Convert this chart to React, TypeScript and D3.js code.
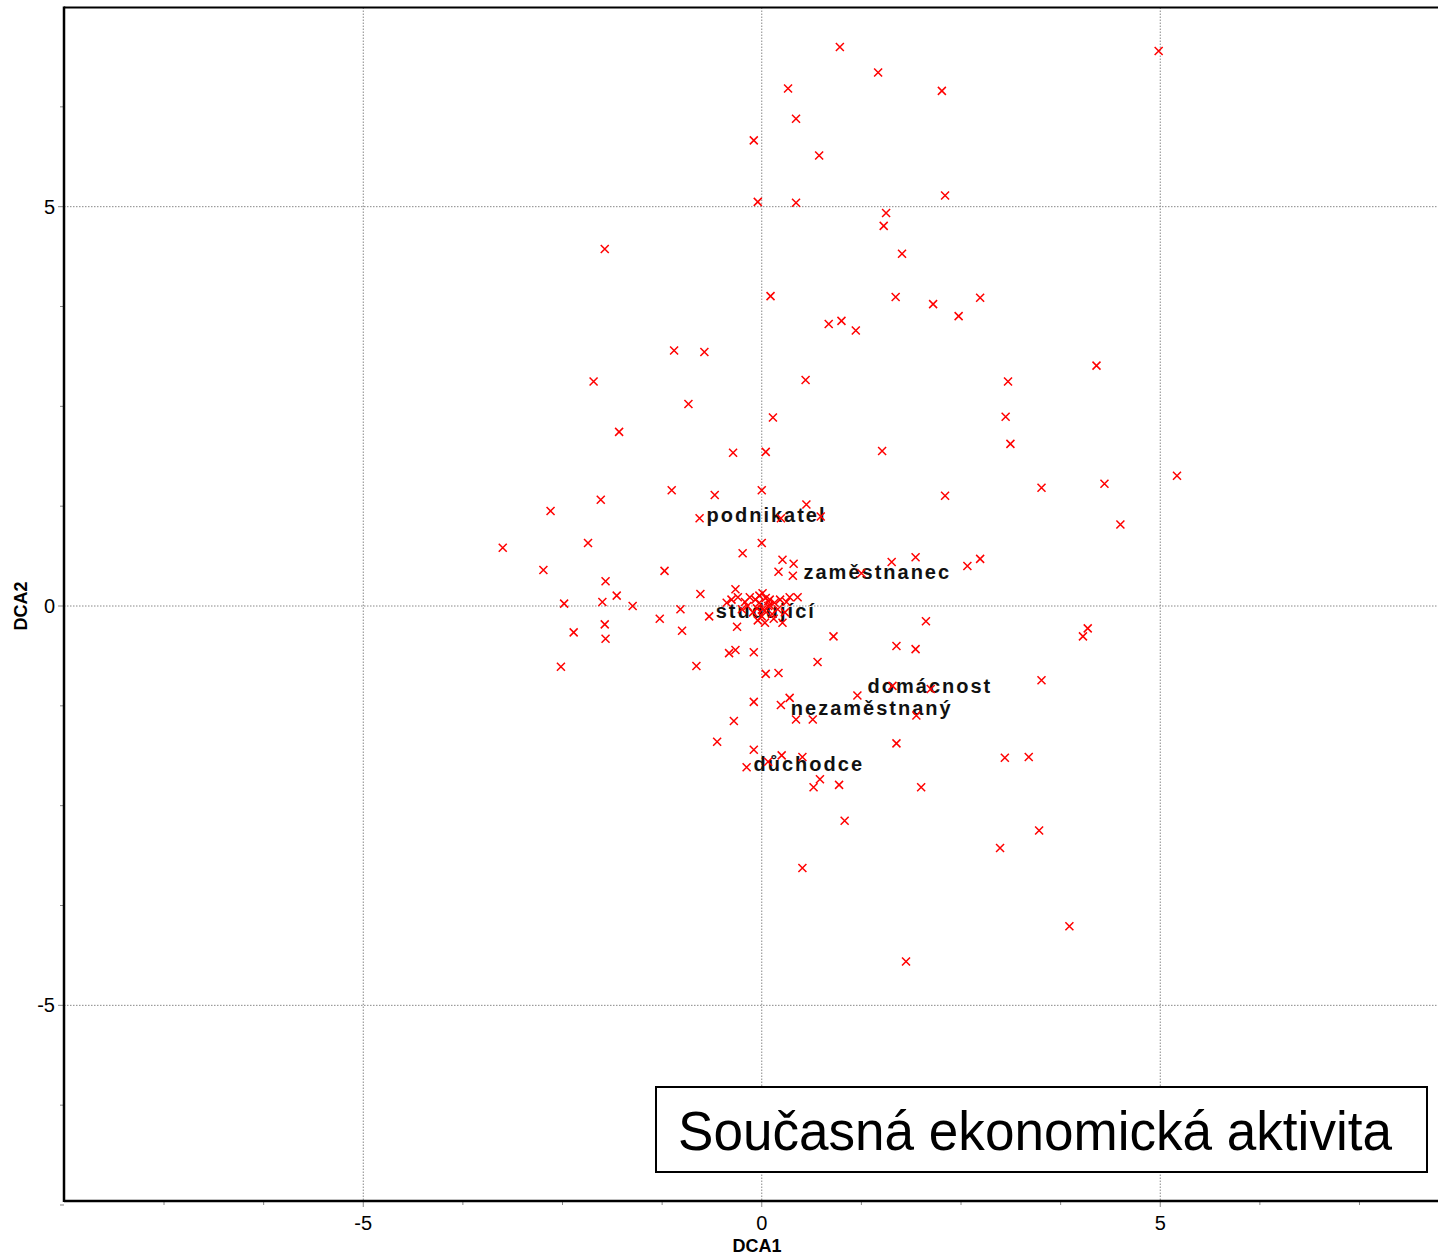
import React from 'react';
import * as d3 from 'd3';

// sample scores (DCA axis 1 / axis 2)
const dca1 = [
  0.98, 1.46, 4.98, 0.33, 2.26, 0.43, -0.10, 0.72, -0.05, 0.43,
  2.30, 1.56, 1.53, 1.76, -1.97, 0.11, 1.68, 2.15, 2.74, 2.47,
  0.84, 1.00, 1.18, -1.10, -0.72, 4.20, -2.11, 0.55, 3.09, -0.92,
  0.14, 3.06, 3.12, -1.79, -0.36, 0.05, 1.51, 5.21, 0.00, -1.13,
  -0.59, -2.02, 2.30, 3.51, 4.30, -2.65, -0.78, 0.56, 0.74, 4.50,
  0.24, -3.25, -2.18, -0.24, 0.00, -2.74, -1.22, 0.26, 0.40, 0.21,
  0.39, -1.96, -1.82, -2.48, -2.00, -1.62, -0.77, -0.33, -1.02, -1.28,
  -0.66, -1.97, -2.36, -1.96, -1.00, -0.31, 0.90, -2.52, -0.82, -0.41,
  -0.33, -0.10, 0.70, 0.05, 0.21, -0.10, 0.35, 0.24, 0.43, 0.64,
  -0.35, -0.56, -0.10, 0.25, 0.51, -0.19, 0.08, 0.73, 0.65, 0.97,
  0.51, 1.63, 1.93, 2.58, 2.74, 1.25, 2.06, 1.69, 1.93, 4.09,
  4.03, 3.51, 1.20, 1.64, 2.12, 1.94, 1.69, 3.05, 3.35, 2.00,
  1.04, 3.48, 2.99, 3.86, 1.81,
  0.01, -0.15, -0.30, -0.38, -0.44, 0.35, 0.45, 0.31, 0.26, 0.04,
  -0.05, 0.10, 0.16, 0.08, -0.03, -0.06, 0.04, 0.13, 0.20, 0.00,
  -0.11, -0.18, 0.23, 0.05, 0.15, -0.21, -0.25, 0.29, -0.03, 0.10,
  0.01, -0.08, 0.08,
];

const dca2 = [
  7.00, 6.68, 6.95, 6.48, 6.45, 6.10, 5.83, 5.64, 5.06, 5.05,
  5.14, 4.92, 4.76, 4.41, 4.47, 3.88, 3.87, 3.78, 3.86, 3.63,
  3.53, 3.57, 3.45, 3.20, 3.18, 3.01, 2.81, 2.83, 2.81, 2.53,
  2.36, 2.37, 2.03, 2.18, 1.92, 1.93, 1.94, 1.63, 1.45, 1.45,
  1.39, 1.33, 1.38, 1.48, 1.53, 1.19, 1.10, 1.27, 1.12, 1.02,
  1.10, 0.73, 0.79, 0.66, 0.79, 0.45, 0.44, 0.58, 0.53, 0.43,
  0.38, 0.31, 0.13, 0.03, 0.05, 0.00, 0.15, 0.21, -0.04, -0.16,
  -0.13, -0.23, -0.33, -0.41, -0.31, -0.26, -0.38, -0.76, -0.75, -0.59,
  -0.55, -0.58, -0.70, -0.85, -0.84, -1.20, -1.15, -1.24, -1.42, -1.42,
  -1.44, -1.70, -1.80, -1.87, -1.89, -2.02, -1.95, -2.17, -2.27, -2.24,
  -3.28, 0.55, 0.61, 0.50, 0.59, 0.41, -0.19, -0.50, -0.54, -0.28,
  -0.38, -0.93, -1.12, -1.00, -1.04, -1.37, -1.72, -1.90, -1.89, -2.27,
  -2.69, -2.81, -3.03, -4.01, -4.45,
  0.16, 0.11, 0.11, 0.08, 0.04, 0.11, 0.11, 0.05, -0.21, -0.21,
  -0.18, 0.08, 0.04, 0.00, 0.04, -0.03, -0.06, -0.10, -0.04, -0.13,
  -0.08, 0.00, 0.08, 0.10, -0.16, 0.05, -0.04, -0.08, 0.13, 0.01,
  -0.04, 0.08, 0.06,
];

// supplementary variable centroids
const labelNames = ['podnikatel', 'zaměstnanec', 'studující', 'domácnost', 'nezaměstnaný', 'důchodce'];
const labelDca1 = [0.06, 1.45, 0.05, 2.11, 1.38, 0.59];
const labelDca2 = [1.14, 0.43, -0.06, -1.0, -1.27, -1.97];

const majorTicks = [-5, 0, 5];
const minorStep = 1.25;
const xDomain = [-8.755, 8.485];
const yDomain = [7.494, -7.45];
const title = 'Současná ekonomická aktivita';

const W = 1438;
const H = 1258;
const left = 64;
const top = 7.5;
const bottom = 1201;
const right = 1438;
const font = '"Liberation Sans", Arial, sans-serif';

export default function App() {
  const x = d3.scaleLinear().domain(xDomain).range([left, right]);
  const y = d3.scaleLinear().domain(yDomain).range([top, bottom]);

  const minor = d3.range(-7.5, 7.5 + 0.001, minorStep);
  const pts = dca1.map((v, i) => [v, dca2[i]]);

  return (
    <svg width={W} height={H} style={{ position: 'absolute', left: 0, top: 0, background: '#fff' }}>
      <rect width={W} height={H} fill="#fff" />
      {/* grid */}
      {majorTicks.map(t => (
        <g key={'g' + t}>
          <line x1={x(t)} x2={x(t)} y1={top} y2={bottom} stroke="#888" strokeWidth={1} strokeDasharray="1.5 1.5" />
          <line x1={left} x2={right} y1={y(t)} y2={y(t)} stroke="#888" strokeWidth={1} strokeDasharray="1.5 1.5" />
        </g>
      ))}
      {/* ticks */}
      {minor.map(t => {
        const major = majorTicks.includes(t);
        const len = major ? 6 : 4;
        return (
          <g key={'t' + t} stroke="#888" strokeWidth={1}>
            <line x1={x(t)} x2={x(t)} y1={bottom} y2={bottom + len} />
            {y(t) >= top && <line x1={left - len} x2={left} y1={y(t)} y2={y(t)} />}
          </g>
        );
      })}
      {/* frame */}
      <line x1={left} x2={right} y1={top} y2={top} stroke="#000" strokeWidth={2} />
      <line x1={left} x2={right} y1={bottom} y2={bottom} stroke="#000" strokeWidth={2.5} />
      <line x1={left} x2={left} y1={top - 1} y2={bottom + 1} stroke="#000" strokeWidth={2.5} />
      {/* tick labels */}
      {majorTicks.map(t => (
        <g key={'l' + t} fontFamily={font} fontSize={20} fill="#000">
          <text x={x(t)} y={1230} textAnchor="middle">{t}</text>
          <text x={55} y={y(t) + 7} textAnchor="end">{t}</text>
        </g>
      ))}
      <text x={757} y={1252} textAnchor="middle" fontFamily={font} fontSize={18} fontWeight="bold">DCA1</text>
      <text transform={`translate(27,${y(0)}) rotate(-90)`} textAnchor="middle" fontFamily={font} fontSize={18} fontWeight="bold">DCA2</text>
      {/* centroid labels */}
      {labelNames.map((name, i) => (
        <text key={name} x={x(labelDca1[i])} y={y(labelDca2[i])} dy="0.36em" textAnchor="middle"
          fontFamily={font} fontSize={20} fontWeight="bold" letterSpacing={2} fill="#111">
          {name}
        </text>
      ))}
      {/* sample points */}
      {pts.map(([a, b], i) => (
        <path key={i} transform={`translate(${x(a)},${y(b)})`} d="M-4,-4L4,4M-4,4L4,-4"
          stroke="#ff0000" strokeWidth={1.5} fill="none" />
      ))}
      {/* title box */}
      <rect x={656} y={1087} width={771} height={85} fill="#fff" stroke="#000" strokeWidth={2} />
      <text x={678} y={1150} fontFamily={font} fontSize={55} textLength={714} lengthAdjust="spacingAndGlyphs">{title}</text>
    </svg>
  );
}
